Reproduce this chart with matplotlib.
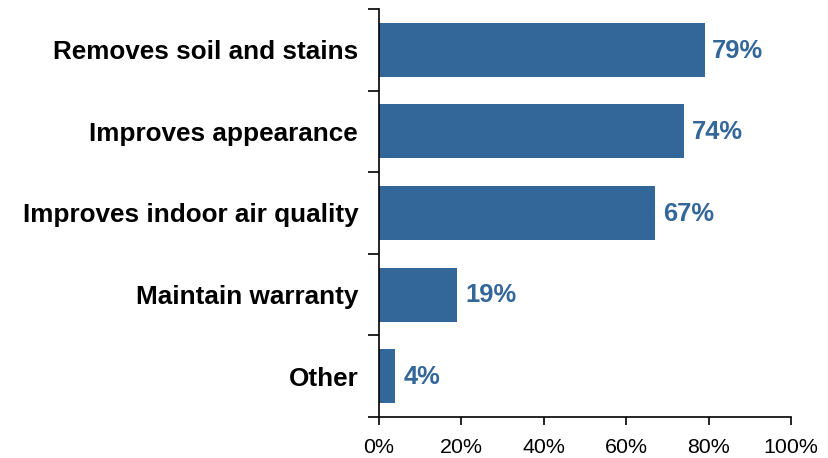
import matplotlib
matplotlib.use("Agg")
import matplotlib.pyplot as plt
from matplotlib.ticker import FuncFormatter

categories = ["Removes soil and stains", "Improves appearance",
              "Improves indoor air quality", "Maintain warranty", "Other"]
values = [79, 74, 67, 19, 4]
xticks = [0, 20, 40, 60, 80, 100]

bar_color = "#336699"

plt.rcParams["font.family"] = ["Liberation Sans", "DejaVu Sans"]

fig = plt.figure(figsize=(8.29, 4.58), dpi=100)
ax = fig.add_axes([0.4572, 0.0895, 0.497, 0.891])

n = len(categories)
ypos = list(range(n))
ax.barh(ypos, values, height=0.66, color=bar_color, edgecolor="none")

ax.set_xlim(0, 100)
ax.set_ylim(n - 0.5, -0.5)
ax.set_xticks(xticks)
ax.xaxis.set_major_formatter(FuncFormatter(lambda v, p: f"{v:.0f}%"))
ax.tick_params(axis="x", labelsize=15.4, length=6, width=1.2, pad=9, direction="out")

# category names sit between boundary ticks on the y axis
ax.set_yticks(ypos)
ax.set_yticklabels(categories, fontsize=18.8, fontweight="bold")
ax.tick_params(axis="y", length=0, pad=15)
ax.set_yticks([i - 0.5 for i in range(n + 1)], minor=True)
ax.tick_params(axis="y", which="minor", length=8, width=1.2, direction="out")

for side in ("top", "right"):
    ax.spines[side].set_visible(False)
for side in ("left", "bottom"):
    ax.spines[side].set_linewidth(1.2)

for y, v in zip(ypos, values):
    ax.text(v + 1.9, y + 0.01, f"{v}%", va="center", ha="left", fontsize=18.4,
            fontweight="bold", color=bar_color)

fig.savefig("out.png", dpi=100)
